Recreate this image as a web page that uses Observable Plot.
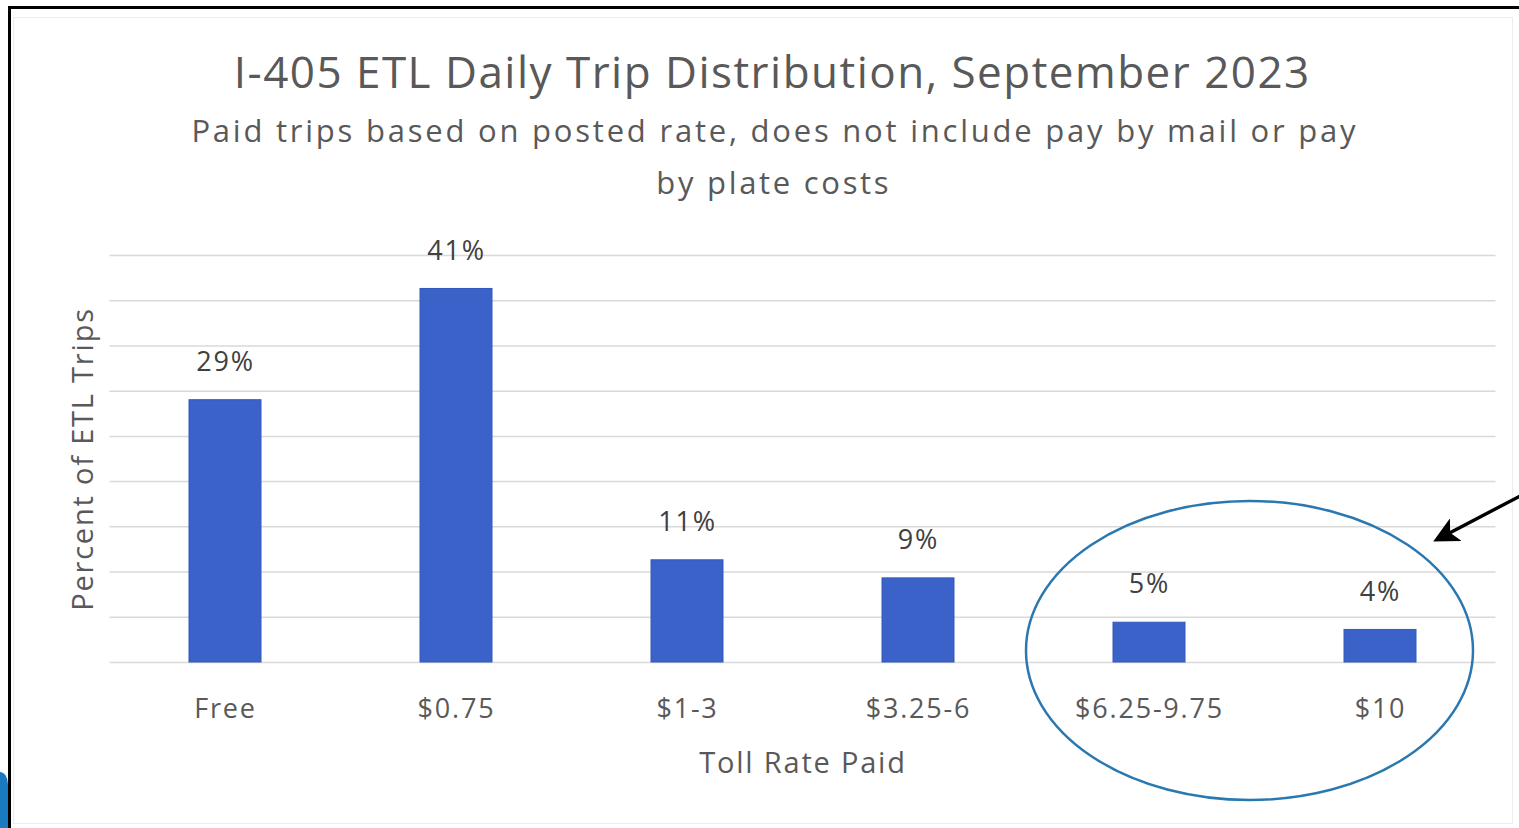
<!DOCTYPE html>
<html>
<head>
<meta charset="utf-8">
<script src="https://cdn.jsdelivr.net/npm/d3@7"></script>
<script src="https://cdn.jsdelivr.net/npm/@observablehq/plot@0.6"></script>
<style>
  html, body { margin: 0; padding: 0; background: #ffffff; }
  #page { position: relative; width: 1519px; height: 828px; overflow: hidden; background: #ffffff; font-family: "Open Sans", sans-serif; }
  .frameTop { position: absolute; left: 8px; top: 6px; width: 1511px; height: 2.5px; background: #000; }
  .frameLeft { position: absolute; left: 8px; top: 6px; width: 2.5px; height: 822px; background: #000; }
  .inner { position: absolute; left: 13px; top: 17px; width: 1500px; height: 807px; border: 1px solid #ececec; box-sizing: border-box; }
  .corner { position: absolute; left: 0; top: 772px; width: 8px; height: 56px; background: #1a7ac0; border-top-right-radius: 8px 12px; }
  .ttl { position: absolute; white-space: nowrap; color: #595959; line-height: 1; transform: translateX(-50%); }
  #chart { position: absolute; left: 0; top: 220px; }
  #overlay { position: absolute; left: 0; top: 0; pointer-events: none; }
</style>
</head>
<body>
<div id="page">
  <div class="inner"></div>
  <div class="frameTop"></div>
  <div class="frameLeft"></div>
  <div class="corner"></div>
  <div class="ttl" id="title">I-405 ETL Daily Trip Distribution, September 2023</div>
  <div class="ttl" id="sub1">Paid trips based on posted rate, does not include pay by mail or pay</div>
  <div class="ttl" id="sub2">by plate costs</div>
  <div id="chart"></div>
  <svg id="overlay" width="1519" height="828">
    <defs>
      <marker id="ah" viewBox="0 0 10 10" refX="7" refY="5" markerWidth="7.5" markerHeight="7.5" orient="auto" markerUnits="strokeWidth">
        <path d="M0,0 L10,5 L0,10 L2.5,5 z" fill="#000"></path>
      </marker>
    </defs>
    <ellipse cx="1249.5" cy="650.5" rx="223.5" ry="149.5" fill="none" stroke="#2a78b0" stroke-width="2.5"></ellipse>
    <line x1="1522" y1="495" x2="1440" y2="538" stroke="#000" stroke-width="3.4" marker-end="url(#ah)"></line>
  </svg>
</div>
<script>
// ---- data ----
const categories = ["Free", "$0.75", "$1-3", "$3.25-6", "$6.25-9.75", "$10"];
const shares = [29.0, 41.3, 11.3, 9.3, 4.4, 3.6];
const shareLabels = ["29%", "41%", "11%", "9%", "5%", "4%"];
const gridTicks = [0, 5, 10, 15, 20, 25, 30, 35, 40, 45];
const xTitle = "Toll Rate Paid";
const yTitle = "Percent of ETL Trips";

const rows = categories.map((c, i) => ({category: c, share: shares[i], label: shareLabels[i]}));

// ---- titles (HTML, fitted to reference widths) ----
const ctx = document.createElement("canvas").getContext("2d");
function place(id, size, cx, cy, targetW) {
  const el = document.getElementById(id);
  el.style.fontSize = size + "px";
  ctx.font = size + 'px "Open Sans"';
  const txt = el.textContent;
  const w = ctx.measureText(txt).width;
  const ls = (targetW - w) / txt.length;
  el.style.letterSpacing = ls + "px";
  el.style.paddingLeft = ls + "px";
  el.style.left = cx + "px";
  el.style.top = (cy - 0.53 * size) + "px";
}
place("title", 44, 771.5, 72, 1077);
place("sub1", 31, 773.5, 131, 1167);
place("sub2", 31, 772.5, 183, 235);

// ---- chart ----
const chart = Plot.plot({
  width: 1519,
  height: 580,
  marginTop: 35,
  marginBottom: 138,
  marginLeft: 109.5,
  marginRight: 23.5,
  style: {fontFamily: '"Open Sans", sans-serif', color: "#595959", background: "transparent", letterSpacing: "1.8px", fontSize: "27px"},
  x: {domain: categories, paddingInner: 0.69, paddingOuter: 0.345, label: null},
  y: {domain: [0, 45], label: null, axis: null},
  marks: [
    Plot.ruleY(gridTicks, {stroke: "#d9d9d9", strokeWidth: 1.5}),
    Plot.barY(rows, {x: "category", y: "share", fill: "#3a62c8", stroke: "#3358bb", strokeWidth: 1}),
    Plot.text(rows, {x: "category", y: "share", text: "label", dy: -38, lineAnchor: "middle", fontSize: 27, fill: "#404040"}),
    Plot.axisX({tickSize: 0, tickPadding: 36, fontSize: 27, label: null, fill: "#595959"}),
    Plot.text([xTitle], {frameAnchor: "bottom", dy: 90, lineAnchor: "top", fontSize: 29, fill: "#595959"}),
    Plot.text([yTitle], {frameAnchor: "left", textAnchor: "middle", rotate: -90, dx: -26.5, lineAnchor: "middle", fontSize: 29, fill: "#595959"})
  ]
});
document.getElementById("chart").appendChild(chart);
</script>
</body>
</html>
